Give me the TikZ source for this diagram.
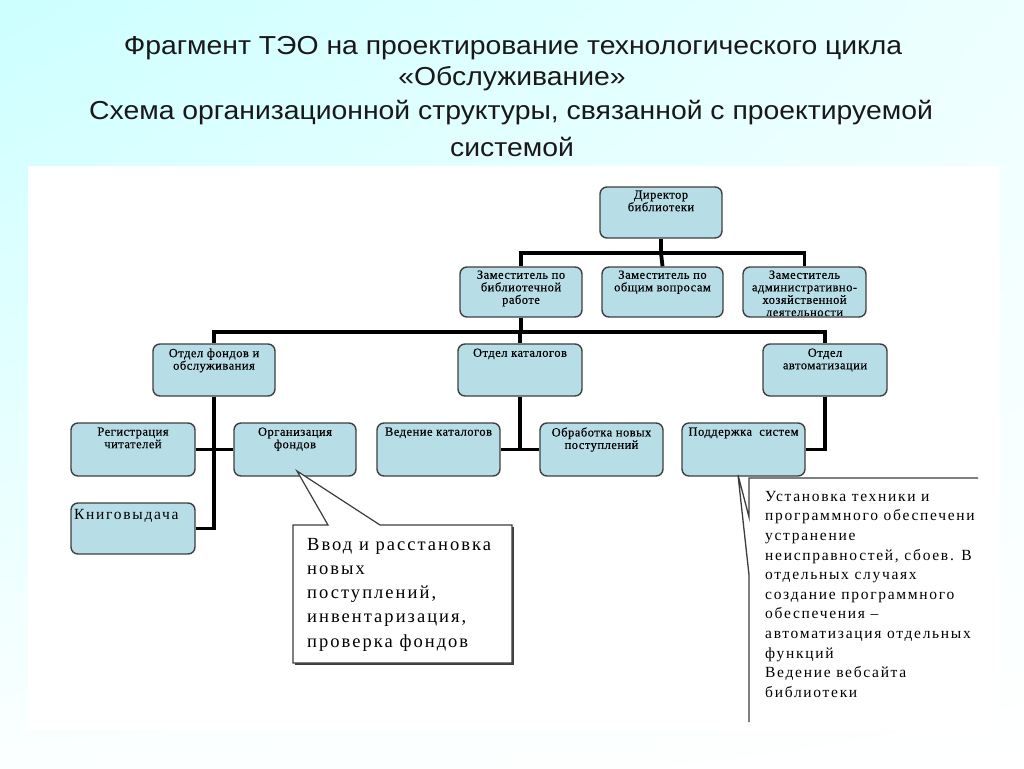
\documentclass[tikz,border=0pt]{standalone}
\usepackage{fontspec}
\usetikzlibrary{shadings}
\setmainfont{Liberation Serif}
\newfontfamily\titlefont{Liberation Sans}
\newfontfamily\spfont{Liberation Serif}[LetterSpace=11]
\newfontfamily\boxfont{Liberation Serif}[LetterSpace=4, FakeBold=0.4]
\definecolor{bgcyan}{RGB}{204,255,255}
\definecolor{boxfill}{RGB}{183,221,230}
\definecolor{boxedge}{RGB}{64,64,64}
\definecolor{calledge}{RGB}{60,60,60}
\newcommand{\ttlline}[1]{\scalebox{1.09}[1]{#1}}
\begin{document}
\begin{tikzpicture}[x=1pt,y=-1pt,
  title/.style={font=\titlefont\fontsize{26}{30}\selectfont, text=black!90, inner sep=0},
  box/.style={draw=boxedge, line width=1.4pt, fill=boxfill, rounded corners=7pt, inner sep=0},
  btxt/.style={font=\boxfont\fontsize{12.5}{12.5}\selectfont, align=center, inner sep=0, anchor=north},
  conn/.style={line width=3.8pt, black},
  callout/.style={draw=calledge, line width=1.2pt, fill=white, line join=miter}
]
\useasboundingbox (0,0) rectangle (1024,768);
\shade[upper left=bgcyan, upper right=bgcyan!35, lower left=bgcyan!8, lower right=white] (0,0) rectangle (1024,768);
\fill[white] (28,166) rectangle (1000,730);

% title
\node[title] (t1) at (513,48) {\ttlline{Фрагмент ТЭО на проектирование технологического цикла}};
\node[title] (t2) at (512,79) {\ttlline{«Обслуживание»}};
\node[title] (t3) at (511,113) {\ttlline{Схема организационной структуры, связанной с проектируемой}};
\node[title] (t4) at (512,147) {\ttlline{системой}};

% boxes (shapes)
\node[box, minimum width=122, minimum height=51] (dir) at (661,212.5) {};
\node[box, minimum width=122, minimum height=50] (zam1) at (521,292) {};
\node[box, minimum width=121, minimum height=50] (zam2) at (662.5,292) {};
\node[box, minimum width=123, minimum height=50] (zam3) at (804.5,292) {};
\node[box, minimum width=122, minimum height=52] (ofond) at (214,370) {};
\node[box, minimum width=124, minimum height=52] (okat) at (520,370) {};
\node[box, minimum width=124, minimum height=52] (oavt) at (825,370) {};
\node[box, minimum width=124, minimum height=53] (reg) at (133,449.5) {};
\node[box, minimum width=122, minimum height=53] (org) at (295,449.5) {};
\node[box, minimum width=123, minimum height=53] (ved) at (438.5,449.5) {};
\node[box, minimum width=123, minimum height=53] (obr) at (601.5,449.5) {};
\node[box, minimum width=123, minimum height=53] (pod) at (743.5,449.5) {};
\node[box, minimum width=124, minimum height=51] (knig) at (133,528.5) {};

% connectors
\draw[conn] (dir.south) -- ++(0,14) coordinate (hub1);
\draw[conn] (zam1.north) |- (hub1) -| (zam3.north);
\draw[conn] (hub1) -- (zam2.north);
\draw[conn] (zam1.south) -- ++(0,14) coordinate (hub2);
\draw[conn] (ofond.north) |- (hub2) -| (oavt.north);
\draw[conn] (okat.north) -- (okat.north |- hub2);
\draw[conn] (ofond.south) |- (knig.east);
\draw[conn] (reg.east) -- (org.west);
\draw[conn] (okat.south) -- (okat.south |- ved.east);
\draw[conn] (ved.east) -- (obr.west);
\draw[conn] (oavt.south) |- (pod.east);

% box texts
\node[btxt] (dirt) at ([yshift=-4pt]dir.north) {Директор\\библиотеки};
\node[btxt] (zam1t) at ([yshift=-4pt]zam1.north) {Заместитель по\\библиотечной\\работе};
\node[btxt] (zam2t) at ([yshift=-4pt]zam2.north) {Заместитель по\\общим вопросам};
\begin{scope}
\clip (745,268) rectangle (865,315);
\node[btxt] (zam3t) at ([yshift=-4pt]zam3.north) {Заместитель\\административно-\\хозяйственной\\деятельности};
\end{scope}
\node[btxt] (ofondt) at ([yshift=-5pt]ofond.north) {Отдел фондов и\\обслуживания};
\node[btxt] (okatt) at ([yshift=-5pt]okat.north) {Отдел каталогов};
\node[btxt] (oavtt) at ([yshift=-5pt]oavt.north) {Отдел\\автоматизации};
\node[btxt] (regt) at ([yshift=-5pt]reg.north) {Регистрация\\читателей};
\node[btxt] (orgt) at ([yshift=-5pt]org.north) {Организация\\фондов};
\node[btxt] (vedt) at ([yshift=-5pt]ved.north) {Ведение каталогов};
\node[btxt] (obrt) at ([yshift=-5pt]obr.north) {Обработка новых\\поступлений};
\node[btxt] (podt) at ([yshift=-5pt]pod.north) {Поддержка\ \ систем};
\node[font=\spfont\fontsize{15.5}{18}\selectfont, inner sep=0, anchor=north west] (knigt) at (74,509) {Книговыдача};

% callout 1
\fill[calledge] (294.5,526.5) -- (513.5,526.5) -- (513.5,664.5) -- (294.5,664.5) -- cycle;
\draw[callout] (293,525) -- (328,525) -- (297,471) -- (380,525) -- (512,525) -- (512,663) -- (293,663) -- cycle;
\node[font=\spfont\fontsize{18.5}{24.2}\selectfont, align=left, inner sep=0, anchor=north west] (c1t) at (307,538)
  {Ввод и расстановка\\новых\\поступлений,\\инвентаризация,\\проверка фондов};

% callout 2
\draw[draw=calledge, line width=1.3pt, line join=miter] (978,478) -- (749,478) -- (749,517) -- (738,475) -- (749,575) -- (749,722);
\node[font=\spfont\fontsize{15.5}{19.6}\selectfont, align=left, inner sep=0, anchor=north west] (c2t) at (765,491)
  {Установка техники и\\программного обеспечени\\устранение\\неисправностей, сбоев. В\\отдельных случаях\\создание программного\\обеспечения –\\автоматизация отдельных\\функций\\Ведение вебсайта\\библиотеки};
\end{tikzpicture}
\end{document}
